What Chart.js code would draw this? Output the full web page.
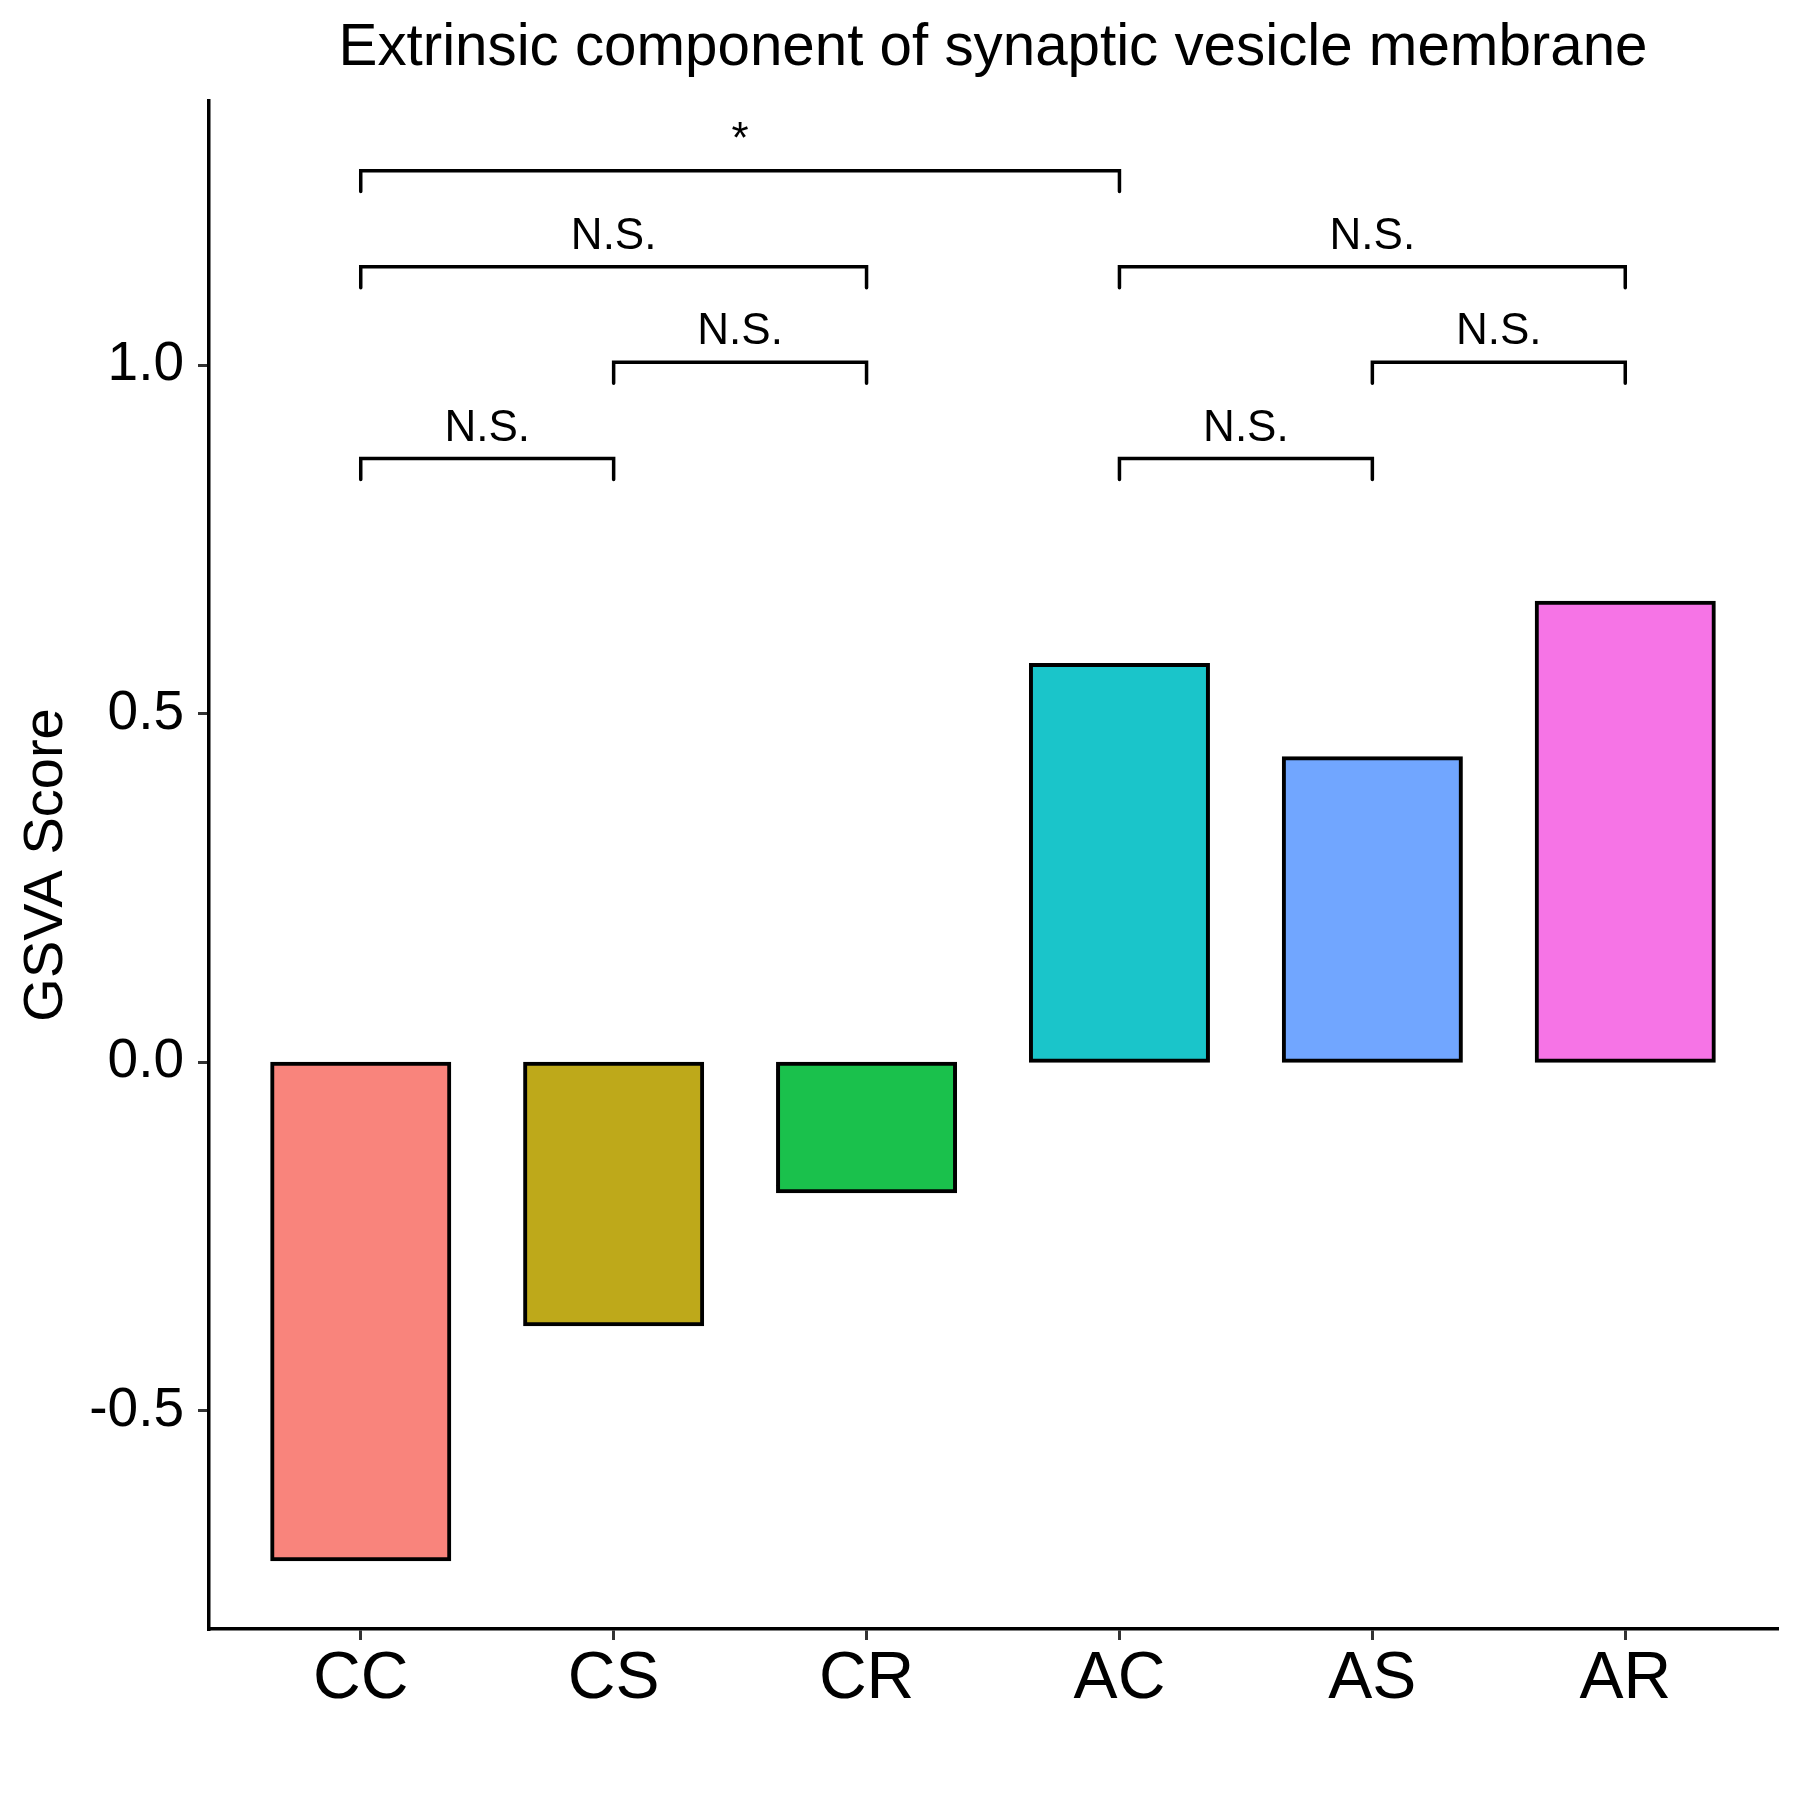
<!DOCTYPE html>
<html><head><meta charset="utf-8">
<script src="https://cdn.jsdelivr.net/npm/chart.js@4.4.1/dist/chart.umd.min.js"></script>
<style>html,body{margin:0;padding:0;background:#fff}canvas{display:block}</style>
</head><body>
<canvas id="c" width="1800" height="1800"></canvas>
<script>
// ---- data ----
const categories = ['CC', 'CS', 'CR', 'AC', 'AS', 'AR'];
const gsvaScores = [-0.713, -0.376, -0.185, 0.570, 0.436, 0.659];
const barColors = ['rgb(249,132,124)', 'rgb(190,169,26)', 'rgb(26,193,76)',
                   'rgb(26,197,202)', 'rgb(113,166,255)', 'rgb(246,116,230)'];
const yTickValues = [-0.5, 0.0, 0.5, 1.0];
const compStart = [0, 1, 0, 3, 4, 3, 0];
const compEnd = [1, 2, 2, 4, 5, 5, 3];
const compHeight = [0.866, 1.004, 1.141, 0.866, 1.004, 1.141, 1.279];
const compLabel = ['N.S.', 'N.S.', 'N.S.', 'N.S.', 'N.S.', 'N.S.', '*'];
const titleText = 'Extrinsic component of synaptic vesicle membrane';
const yTitle = 'GSVA Score';

const FONT = "'Liberation Sans', Arial, sans-serif";
const tipLength = 0.03;

const bracketPlugin = {
  id: 'brackets',
  afterDatasetsDraw(chart) {
    const { ctx, scales: { x, y } } = chart;
    ctx.save();
    ctx.lineWidth = 3.5;
    ctx.strokeStyle = '#000';
    ctx.lineCap = 'round';
    ctx.fillStyle = '#000';
    ctx.font = '44px ' + FONT;
    ctx.textAlign = 'center';
    ctx.textBaseline = 'alphabetic';
    for (let k = 0; k < compStart.length; k++) {
      const x1 = x.getPixelForValue(compStart[k]);
      const x2 = x.getPixelForValue(compEnd[k]);
      const yb = y.getPixelForValue(compHeight[k]);
      const yt = y.getPixelForValue(compHeight[k] - tipLength);
      ctx.beginPath();
      ctx.moveTo(x1, yt); ctx.lineTo(x1, yb); ctx.lineTo(x2, yb); ctx.lineTo(x2, yt);
      ctx.stroke();
      ctx.fillText(compLabel[k], (x1 + x2) / 2, yb - 18);
    }
    ctx.restore();
  }
};

new Chart(document.getElementById('c'), {
  type: 'bar',
  data: {
    datasets: [{
      data: categories.map((c, i) => ({ x: i, y: gsvaScores[i] })),
      backgroundColor: barColors,
      borderColor: '#000',
      borderWidth: 4,
      borderSkipped: false,
      inflateAmount: 2,
      categoryPercentage: 1.0,
      barPercentage: 0.7
    }]
  },
  options: {
    responsive: false,
    animation: false,
    devicePixelRatio: 1,
    layout: { padding: { top: 0, right: 23, bottom: 0, left: 0 } },
    plugins: {
      legend: { display: false },
      tooltip: { enabled: false },
      title: {
        display: true, text: titleText, color: '#000', fullSize: false,
        font: { size: 58.3, family: FONT, weight: 'normal' },
        padding: { top: 14, bottom: 17 }
      }
    },
    scales: {
      x: {
        type: 'linear', min: -0.6, max: 5.6, offset: false,
        afterBuildTicks: (s) => { s.ticks = categories.map((c, i) => ({ value: i })); },
        afterFit: (s) => { s.height = 171; },
        ticks: {
          callback: (v) => categories[v], color: '#000', padding: 0,
          font: { size: 66, family: FONT }, maxRotation: 0, autoSkip: false
        },
        grid: { display: true, drawOnChartArea: false, drawTicks: true, tickLength: 11,
                color: '#333333', lineWidth: 3, offset: false },
        border: { display: true, color: '#000', width: 3.5 }
      },
      y: {
        type: 'linear', min: -0.813, max: 1.379,
        afterBuildTicks: (s) => { s.ticks = yTickValues.map(v => ({ value: v })); },
        afterFit: (s) => { s.width = 209; },
        ticks: {
          callback: (v) => v.toFixed(1), color: '#000', padding: 14,
          font: { size: 55, family: FONT }
        },
        title: { display: true, text: yTitle, color: '#000',
                 font: { size: 56, family: FONT }, padding: { top: 13, bottom: 0 } },
        grid: { display: true, drawOnChartArea: false, drawTicks: true, tickLength: 11,
                color: '#333333', lineWidth: 3 },
        border: { display: true, color: '#000', width: 3.5 }
      }
    }
  },
  plugins: [bracketPlugin]
});
</script>
</body></html>
